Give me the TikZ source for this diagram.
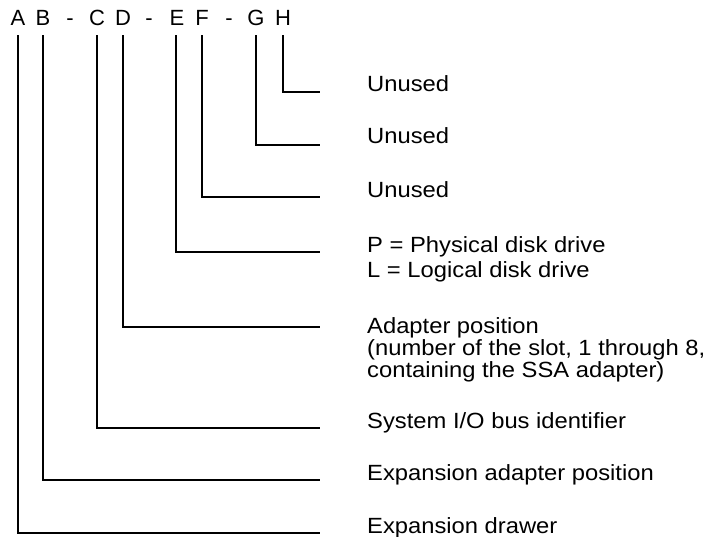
\documentclass[tikz,border=0pt]{standalone}
\usepackage{fontspec}
\setmainfont{Liberation Sans}
\usepackage{graphicx}
\newcommand{\tx}[1]{\scalebox{1.08}[1]{#1}}
\begin{document}
\begin{tikzpicture}[x=1pt,y=-1pt,
  conn/.style={line width=1.8pt},
  letter/.style={font=\fontsize{22}{26}\selectfont, anchor=base, inner xsep=0pt, inner ysep=9pt},
  lbl/.style={font=\fontsize{22}{25}\selectfont, anchor=base west, inner sep=0pt, align=left}]
\useasboundingbox (0,0) rectangle (708,537);
% code letters
\node[letter] (A) at (18,26) {A};
\node[letter] (B) at (43,26) {B};
\node[letter] (d1) at (70,26) {-};
\node[letter] (C) at (97,26) {C};
\node[letter] (D) at (123,26) {D};
\node[letter] (d2) at (149,26) {-};
\node[letter] (E) at (177,26) {E};
\node[letter] (F) at (202,26) {F};
\node[letter] (d3) at (229,26) {-};
\node[letter] (G) at (256,26) {G};
\node[letter] (H) at (283,26) {H};
% labels (multi-line nodes: base = baseline of last line)
\node[lbl] (tH) at (367,92) {\tx{Unused}};
\node[lbl] (tG) at (367,144) {\tx{Unused}};
\node[lbl] (tF) at (367,197) {\tx{Unused}};
\node[lbl] (tE) at (367,277) {\tx{P = Physical disk drive}\\\tx{L = Logical disk drive}};
\node[lbl,font=\fontsize{22}{22}\selectfont] (tD) at (367,377) {\tx{Adapter position}\\\tx{(number of the slot, 1 through 8,}\\\tx{containing the SSA adapter)}};
\node[lbl] (tC) at (367,428) {\tx{System I/O bus identifier}};
\node[lbl] (tB) at (367,480) {\tx{Expansion adapter position}};
\node[lbl] (tA) at (367,533) {\tx{Expansion drawer}};
% line ends
\coordinate (eH) at (320,92);
\coordinate (eG) at (320,145);
\coordinate (eF) at (320,197);
\coordinate (eE) at (320,252);
\coordinate (eD) at (320,327);
\coordinate (eC) at (320,428);
\coordinate (eB) at (320,480);
\coordinate (eA) at (320,533);
% connectors
\draw[conn] (H.south) |- (eH);
\draw[conn] (G.south) |- (eG);
\draw[conn] (F.south) |- (eF);
\draw[conn] ([xshift=-1pt]E.south) |- (eE);
\draw[conn] (D.south) |- (eD);
\draw[conn] (C.south) |- (eC);
\draw[conn] (B.south) |- (eB);
\draw[conn] (A.south) |- (eA);
\end{tikzpicture}
\end{document}
